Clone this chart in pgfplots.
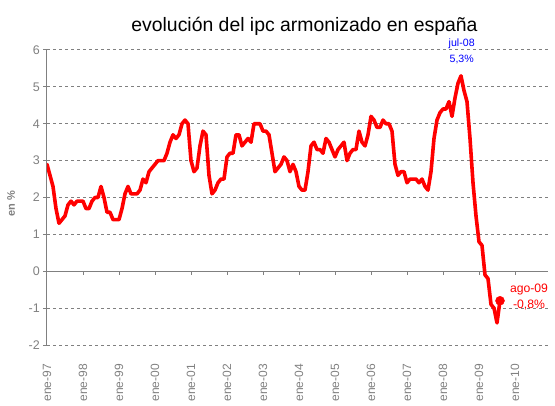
\documentclass[border=0pt]{standalone}
\usepackage{pgfplots}
\pgfplotsset{compat=1.18}
\usepackage{pgfplotstable}
\usepackage{fontspec}
\setmainfont{Liberation Sans}
\definecolor{axgray}{HTML}{808080}
\definecolor{ipcred}{HTML}{FF0000}
\definecolor{ipcblue}{HTML}{0000FF}
\pgfplotstableread{
m v
0 2.9
1 2.6
2 2.3
3 1.7
4 1.3
5 1.4
6 1.5
7 1.8
8 1.9
9 1.8
10 1.9
11 1.9
12 1.9
13 1.7
14 1.7
15 1.9
16 2.0
17 2.0
18 2.3
19 2.0
20 1.6
21 1.6
22 1.4
23 1.4
24 1.4
25 1.7
26 2.1
27 2.3
28 2.1
29 2.1
30 2.1
31 2.2
32 2.5
33 2.4
34 2.7
35 2.8
36 2.9
37 3.0
38 3.0
39 3.0
40 3.2
41 3.5
42 3.7
43 3.6
44 3.7
45 4.0
46 4.1
47 4.0
48 3.0
49 2.7
50 2.8
51 3.4
52 3.8
53 3.7
54 2.6
55 2.1
56 2.2
57 2.4
58 2.5
59 2.5
60 3.1
61 3.2
62 3.2
63 3.7
64 3.7
65 3.4
66 3.5
67 3.6
68 3.5
69 4.0
70 4.0
71 4.0
72 3.8
73 3.8
74 3.7
75 3.2
76 2.7
77 2.8
78 2.9
79 3.1
80 3.0
81 2.7
82 2.9
83 2.7
84 2.3
85 2.2
86 2.2
87 2.7
88 3.4
89 3.5
90 3.3
91 3.3
92 3.2
93 3.6
94 3.5
95 3.3
96 3.1
97 3.3
98 3.4
99 3.5
100 3.0
101 3.2
102 3.3
103 3.3
104 3.8
105 3.5
106 3.4
107 3.7
108 4.2
109 4.1
110 3.9
111 3.9
112 4.1
113 4.0
114 4.0
115 3.8
116 2.9
117 2.6
118 2.7
119 2.7
120 2.4
121 2.5
122 2.5
123 2.5
124 2.4
125 2.5
126 2.3
127 2.2
128 2.7
129 3.6
130 4.1
131 4.3
132 4.4
133 4.4
134 4.6
135 4.2
136 4.7
137 5.1
138 5.3
139 4.9
140 4.6
141 3.6
142 2.4
143 1.5
144 0.8
145 0.7
146 -0.1
147 -0.2
148 -0.9
149 -1.0
150 -1.4
151 -0.8
}\ipcdata
\pgfplotstableread{
m v
151 -0.8
}\lastpoint
\begin{document}
\begin{tikzpicture}
\useasboundingbox (-47bp,-61bp) rectangle (508bp,345bp);
\begin{axis}[
  at={(0,0)}, anchor=south west,
  scale only axis, width=501bp, height=295bp,
  xmin=0, xmax=167, ymin=-2, ymax=6,
  axis y line*=left, axis x line*=bottom,
  axis line style={-},
  x axis line style={draw=none},
  y axis line style={draw=axgray, line width=1bp},
  ytick={-2,-1,0,1,2,3,4,5,6},
  yticklabels={-2,-1,0,1,2,3,4,5,6},
  xtick={0,12,24,36,48,60,72,84,96,108,120,132,144,156},
  xticklabels={ene-97,ene-98,ene-99,ene-00,ene-01,ene-02,ene-03,ene-04,ene-05,ene-06,ene-07,ene-08,ene-09,ene-10},
  ymajorgrids,
  grid style={axgray, line width=1bp, dash pattern=on 3bp off 3bp},
  tick align=outside, major tick length=4bp,
  ytick style={axgray, line width=1bp},
  xtick style={draw=none},
  yticklabel style={font=\fontsize{12.5bp}{14bp}\selectfont, text=axgray, anchor=east, inner sep=0pt, xshift=-3bp},
  xticklabel style={font=\fontsize{12bp}{14bp}\selectfont, text=axgray, rotate=90, anchor=east, inner sep=0pt},
  xticklabel shift=15bp,
]
\draw[axgray, line width=1bp] (axis cs:0,0) -- (axis cs:167,0);
\pgfplotsinvokeforeach{12,24,36,48,60,72,84,96,108,120,132,144,156}{
  \draw[axgray, line width=1bp] (axis cs:#1,0) -- ++(0bp,-4bp);
}
\addplot[ipcred, line width=3.6bp, line join=round, line cap=round, no markers] table[x=m, y=v] {\ipcdata};
\addplot[ipcred, only marks, mark=*, mark size=4.5bp, mark options={fill=ipcred, draw=ipcred}] table[x=m, y=v] {\lastpoint};
\end{axis}
\node[anchor=base, font=\fontsize{19.4bp}{22bp}\selectfont] at (257.5bp,313.3bp) {evolución del ipc armonizado en españa};
\node[anchor=base, text=ipcblue, font=\fontsize{10.6bp}{12bp}\selectfont, inner sep=0pt] at (414.7bp,298bp) {jul-08};
\node[anchor=base, text=ipcblue, font=\fontsize{10.6bp}{12bp}\selectfont, inner sep=0pt] at (414.7bp,282.3bp) {5,3\%};
\node[anchor=base, text=ipcred, font=\fontsize{12.2bp}{14bp}\selectfont, inner sep=0pt] at (482bp,52bp) {ago-09};
\node[anchor=base, text=ipcred, font=\fontsize{12.2bp}{14bp}\selectfont, inner sep=0pt] at (482bp,37bp) {-0,8\%};
\node[rotate=90, text=axgray, font=\bfseries\fontsize{11bp}{13bp}\selectfont, inner sep=0pt] at (-36bp,141bp) {en \%};
\end{tikzpicture}
\end{document}
